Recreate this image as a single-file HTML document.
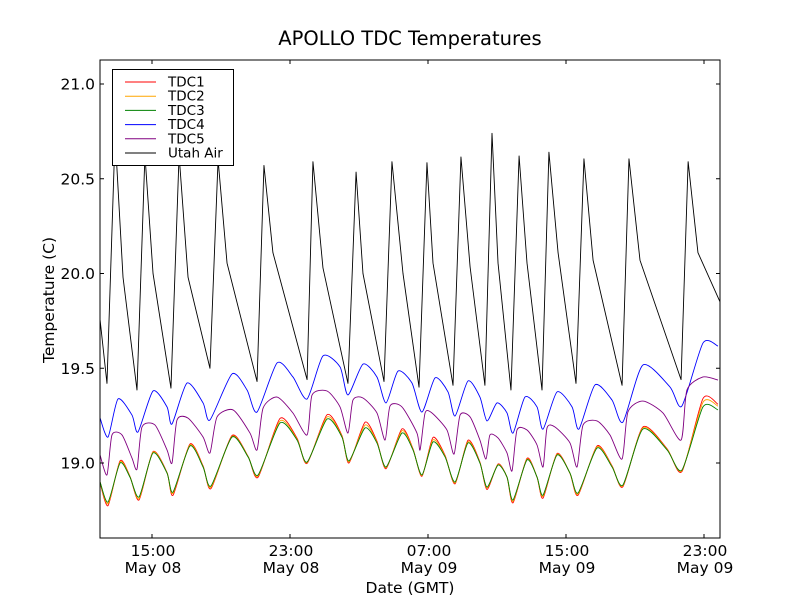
<!DOCTYPE html>
<html><head><meta charset="utf-8"><style>
html,body{margin:0;padding:0;background:#fff;}
svg text{font-family:"DejaVu Sans","Liberation Sans",sans-serif;}
</style></head><body>
<svg id="chart" width="800" height="600" viewBox="0 0 800 600" xmlns="http://www.w3.org/2000/svg">
<rect x="0" y="0" width="800" height="600" fill="#fff"/>
<text x="410" y="45" font-size="19.5" text-anchor="middle">APOLLO TDC Temperatures</text>
<text x="0" y="0" font-size="15.5" text-anchor="middle" transform="translate(54,300) rotate(-90)">Temperature (C)</text>
<text x="410" y="593" font-size="15.5" text-anchor="middle">Date (GMT)</text>
<g id="series"></g>
<g id="axes"></g>
<g id="legend"></g>
</svg>
<script>
const CLOCK_OFFSET = 0.58;
const yTicks = [19.0, 19.5, 20.0, 20.5, 21.0];
const yTickLabels = ["19.0", "19.5", "20.0", "20.5", "21.0"];
const xTicks = [15, 23, 31, 39, 47];
const xTickTimes = ["15:00", "23:00", "07:00", "15:00", "23:00"];
const xTickDates = ["May 08", "May 08", "May 09", "May 09", "May 09"];
const seriesNames = ["TDC1", "TDC2", "TDC3", "TDC4", "TDC5", "Utah Air"];

const utahTimes = [11.41,11.81,12.28,12.74,13.55,14.01,14.48,15.52,15.99,16.51,17.78,18.25,18.77,20.51,20.91,21.43,23.41,23.75,24.33,25.78,26.25,26.65,27.87,28.33,28.97,29.90,30.36,30.71,31.87,32.33,32.86,33.72,34.13,34.48,35.23,35.70,36.16,37.03,37.43,37.96,39.00,39.46,39.99,41.67,42.07,42.71,45.09,45.50,46.07,47.35];
const utahValues = [19.755,19.42,20.73,19.98,19.385,20.625,20.00,19.395,20.625,19.98,19.50,20.60,20.055,19.43,20.57,20.11,19.44,20.59,20.03,19.42,20.535,20.00,19.43,20.59,20.00,19.40,20.585,20.055,19.41,20.615,20.035,19.41,20.74,20.055,19.385,20.62,20.055,19.385,20.64,20.11,19.42,20.605,20.07,19.41,20.605,20.07,19.44,20.59,20.11,19.85];

const tdcTimes = [11.41,11.87,12.57,13.14,13.67,14.48,15.29,15.64,16.62,17.38,17.84,19.06,19.99,20.57,21.84,22.83,23.41,24.57,25.43,25.84,26.77,27.46,27.99,28.91,29.55,30.07,30.71,31.41,31.99,32.74,33.43,33.84,34.48,35.00,35.35,36.16,36.74,37.09,37.90,38.65,39.12,40.22,41.09,41.72,42.88,44.28,45.14,46.36,47.23];
const tdc1Values = [18.895,18.775,19.012,18.930,18.805,19.060,18.950,18.830,19.100,18.985,18.865,19.145,19.035,18.925,19.235,19.130,18.998,19.255,19.145,19.000,19.215,19.115,18.970,19.180,19.075,18.930,19.135,19.040,18.890,19.120,19.005,18.860,18.995,18.925,18.790,19.025,18.925,18.815,19.050,18.945,18.830,19.090,18.985,18.875,19.190,19.075,18.955,19.340,19.310];
const tdc2Values = [18.900,18.785,19.006,18.928,18.812,19.058,18.948,18.840,19.095,18.982,18.872,19.140,19.034,18.932,19.222,19.125,19.002,19.243,19.140,19.006,19.200,19.110,18.975,19.170,19.072,18.934,19.122,19.036,18.895,19.112,19.002,18.868,18.992,18.926,18.798,19.020,18.926,18.824,19.046,18.946,18.836,19.085,18.982,18.880,19.185,19.072,18.960,19.320,19.300];
const tdc3Values = [18.900,18.794,19.000,18.926,18.821,19.053,18.947,18.847,19.090,18.979,18.879,19.137,19.032,18.937,19.211,19.121,19.005,19.232,19.137,19.011,19.185,19.106,18.979,19.158,19.069,18.937,19.111,19.032,18.900,19.106,19.000,18.873,18.989,18.926,18.805,19.016,18.926,18.831,19.042,18.947,18.842,19.079,18.979,18.884,19.179,19.069,18.963,19.296,19.280];

const tdc4Times = [11.41,11.87,12.45,13.26,13.61,14.48,15.29,15.58,16.45,17.38,17.78,19.06,19.93,20.51,21.67,22.59,23.41,24.33,25.32,25.78,26.65,27.46,27.99,28.68,29.49,30.07,30.83,31.58,31.99,32.74,33.43,33.84,34.42,35.00,35.35,36.04,36.74,37.09,37.90,38.77,39.17,40.10,41.09,41.72,42.88,44.45,45.14,46.36,47.23];
const tdc4Values = [19.237,19.137,19.338,19.253,19.164,19.380,19.296,19.206,19.422,19.317,19.227,19.470,19.385,19.269,19.528,19.454,19.338,19.565,19.507,19.359,19.522,19.454,19.317,19.485,19.422,19.269,19.449,19.375,19.248,19.433,19.348,19.222,19.317,19.264,19.158,19.348,19.296,19.179,19.375,19.296,19.179,19.412,19.332,19.216,19.517,19.401,19.301,19.633,19.617];

const tdc5Times = [11.41,11.81,12.10,12.68,13.26,13.55,13.84,14.59,15.29,15.58,15.87,16.51,17.38,17.78,18.19,19.12,20.10,20.51,20.86,21.67,22.59,23.41,23.70,24.57,25.32,25.78,26.07,26.65,27.46,27.93,28.22,28.91,29.78,29.96,30.25,30.65,31.52,31.93,32.28,32.86,33.43,33.78,34.01,34.48,35.00,35.29,35.58,36.16,36.74,37.09,37.32,37.78,38.65,39.06,39.41,40.22,40.97,41.67,42.01,42.88,44.04,45.09,45.43,46.36,47.23];
const tdc5Values = [19.042,18.937,19.148,19.148,19.026,18.968,19.190,19.201,19.069,19.000,19.227,19.237,19.137,19.053,19.243,19.280,19.158,19.069,19.290,19.348,19.264,19.148,19.359,19.380,19.296,19.158,19.332,19.343,19.264,19.121,19.301,19.296,19.158,19.069,19.264,19.264,19.174,19.047,19.253,19.243,19.121,19.021,19.148,19.132,19.053,18.958,19.174,19.174,19.095,18.979,19.185,19.190,19.106,18.979,19.201,19.222,19.148,19.021,19.269,19.327,19.264,19.121,19.385,19.454,19.438];

const PL = 100, PR = 720, PT = 60, PB = 538;
const X_AT15 = 152, PX_PER_HR = 17.25;
const Y_AT19 = 463, PX_PER_DEG = 189.5;
function xScale(h) { return X_AT15 + (h + CLOCK_OFFSET - 15) * PX_PER_HR; }
function xTickScale(h) { return X_AT15 + (h - 15) * PX_PER_HR; }
function yScale(v) { return Y_AT19 - (v - 19) * PX_PER_DEG; }

const NS = "http://www.w3.org/2000/svg";
function mk(tag, attrs) { const e = document.createElementNS(NS, tag); for (const k in attrs) e.setAttribute(k, attrs[k]); return e; }

function linePath(ts, vs) {
  return ts.map((t, i) => (i ? "L" : "M") + xScale(t).toFixed(2) + "," + yScale(vs[i]).toFixed(2)).join(" ");
}
function smoothPath(ts, vs) {
  const p = ts.map((t, i) => [xScale(t), yScale(vs[i])]);
  let d = "M" + p[0][0].toFixed(2) + "," + p[0][1].toFixed(2);
  const k = 0.12;
  for (let i = 0; i < p.length - 1; i++) {
    const p0 = p[Math.max(0, i - 1)], p1 = p[i], p2 = p[i + 1], p3 = p[Math.min(p.length - 1, i + 2)];
    const c1 = [p1[0] + (p2[0] - p0[0]) * k, p1[1] + (p2[1] - p0[1]) * k];
    const c2 = [p2[0] - (p3[0] - p1[0]) * k, p2[1] - (p3[1] - p1[1]) * k];
    d += " C" + c1[0].toFixed(2) + "," + c1[1].toFixed(2) + " " + c2[0].toFixed(2) + "," + c2[1].toFixed(2) + " " + p2[0].toFixed(2) + "," + p2[1].toFixed(2);
  }
  return d;
}

const svg = document.getElementById("chart");
const defs = mk("defs", {});
const cp = mk("clipPath", { id: "plotclip" });
cp.appendChild(mk("rect", { x: PL, y: PT, width: PR - PL, height: PB - PT }));
defs.appendChild(cp);
svg.insertBefore(defs, svg.firstChild);

const sg = document.getElementById("series");
sg.setAttribute("clip-path", "url(#plotclip)");

const plots = [
  { name: "utah-air-line", d: linePath(utahTimes, utahValues), c: "#000" },
  { name: "tdc4-line", d: smoothPath(tdc4Times, tdc4Values), c: "#0000ff" },
  { name: "tdc5-line", d: smoothPath(tdc5Times, tdc5Values), c: "#800080" },
  { name: "tdc1-line", d: smoothPath(tdcTimes, tdc1Values), c: "#ff0000" },
  { name: "tdc2-line", d: smoothPath(tdcTimes, tdc2Values), c: "#ffa500" },
  { name: "tdc3-line", d: smoothPath(tdcTimes, tdc3Values), c: "#008000" }
];
plots.forEach(p => {
  const path = mk("path", { d: p.d, fill: "none", stroke: p.c, "stroke-width": 0.9, "stroke-linejoin": "round" });
  
  
  sg.appendChild(path);
});

const ax = document.getElementById("axes");
const frame = mk("rect", { x: PL, y: PT, width: PR - PL, height: PB - PT, fill: "none", stroke: "#000", "stroke-width": 1 });


ax.appendChild(frame);

yTicks.forEach((v, i) => {
  const y = yScale(v);
  const t1 = mk("line", { x1: PL, x2: PL + 4, y1: y, y2: y, stroke: "#000" });
  
  
  ax.appendChild(t1);
  const t2 = mk("line", { x1: PR - 4, x2: PR, y1: y, y2: y, stroke: "#000" });
  
  
  ax.appendChild(t2);
  const lb = mk("text", { x: PL - 5, y: y + 5.5, "font-size": 15.5, "text-anchor": "end" });
  lb.textContent = yTickLabels[i];
  
  
  ax.appendChild(lb);
});

xTicks.forEach((h, i) => {
  const x = xTickScale(h);
  const t1 = mk("line", { x1: x, x2: x, y1: PB, y2: PB - 4, stroke: "#000" });
  
  
  ax.appendChild(t1);
  const t2 = mk("line", { x1: x, x2: x, y1: PT, y2: PT + 4, stroke: "#000" });
  
  
  ax.appendChild(t2);
  const l1 = mk("text", { x: x + 1, y: 556, "font-size": 15.5, "text-anchor": "middle" });
  l1.textContent = xTickTimes[i];
  
  
  ax.appendChild(l1);
  const l2 = mk("text", { x: x + 1, y: 573, "font-size": 15.5, "text-anchor": "middle" });
  l2.textContent = xTickDates[i];
  
  
  ax.appendChild(l2);
});

const lg = document.getElementById("legend");
const lbox = mk("rect", { x: 112.5, y: 69.5, width: 121, height: 96, fill: "#fff", stroke: "#000", "stroke-width": 1 });


lg.appendChild(lbox);
const legendColors = ["#ff0000", "#ffa500", "#008000", "#0000ff", "#800080", "#000"];
seriesNames.forEach((n, i) => {
  const y = 82 + i * 14.2;
  const g = mk("g", {});
  
  
  g.appendChild(mk("line", { x1: 125, x2: 156, y1: y, y2: y, stroke: legendColors[i], "stroke-width": 1 }));
  const t = mk("text", { x: 168, y: y + 4.5, "font-size": 13.5 });
  t.textContent = n;
  g.appendChild(t);
  lg.appendChild(g);
});
</script>
</body></html>
